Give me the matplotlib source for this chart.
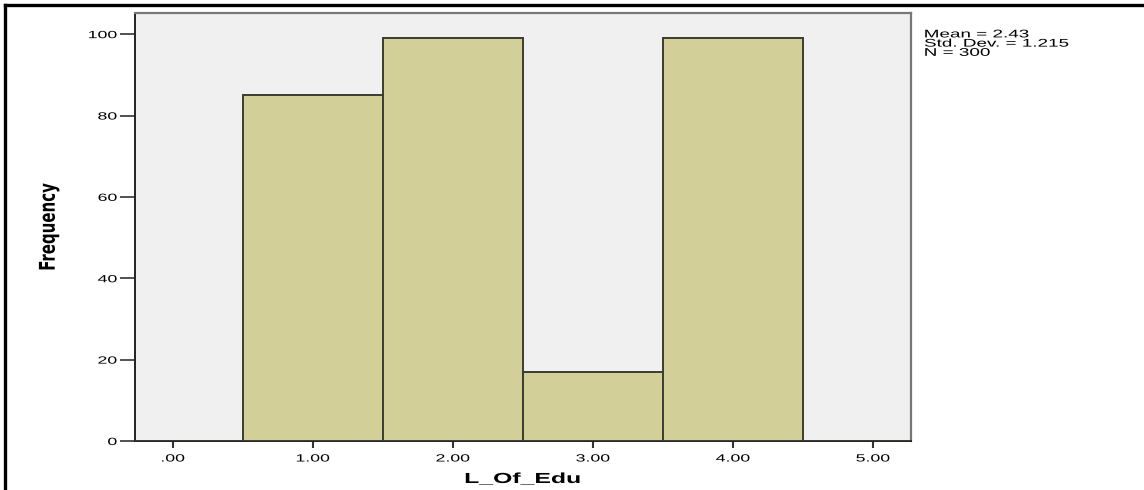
import matplotlib
matplotlib.use("Agg")
import matplotlib.pyplot as plt
import matplotlib.patheffects as pe
from matplotlib.lines import Line2D
from matplotlib.transforms import Affine2D

# Histogram of L_Of_Edu (SPSS style)
levels = [0, 1, 2, 3, 4, 5]
counts = [0, 85, 99, 17, 99, 0]
tick_labels = [".00", "1.00", "2.00", "3.00", "4.00", "5.00"]
y_ticks = [0, 20, 40, 60, 80, 100]
stats_text = "Mean = 2.43\nStd. Dev. = 1.215\nN = 300"


class StretchX(pe.AbstractPathEffect):
    """Widen text horizontally, the SPSS export looks stretched."""

    def __init__(self, sx, anchor='center'):
        super().__init__()
        self.sx = sx
        self.anchor = anchor

    def draw_path(self, renderer, gc, tpath, affine, rgbFace=None):
        ext = tpath.get_extents(affine)
        if self.anchor == 'left':
            x0 = ext.x0
        elif self.anchor == 'right':
            x0 = ext.x1
        else:
            x0 = (ext.x0 + ext.x1) / 2
        t = affine + Affine2D().translate(-x0, 0).scale(self.sx, 1).translate(x0, 0)
        renderer.draw_path(gc, tpath, t, rgbFace)


SX = 1.7
plt.rcParams['font.family'] = ['Liberation Sans', 'DejaVu Sans']

fig = plt.figure(figsize=(11.44, 4.9), dpi=100, facecolor='white')
ax = fig.add_axes([0.118, 0.1, 0.678, 0.8735])
ax.set_facecolor('#f0f0f0')

ax.bar(levels, counts, width=1.0, color='#d3cf98', edgecolor='#3c3c30',
       linewidth=1.4, zorder=3)

ax.set_xlim(-0.27, 5.27)
ax.set_ylim(0, 105.2)
ax.set_xticks(levels)
ax.set_xticklabels(tick_labels)
ax.set_yticks(y_ticks)

ax.tick_params(axis='y', direction='out', length=11, width=1.2, color='#333333',
               labelsize=7.5, pad=2)
ax.tick_params(axis='x', direction='out', length=5, width=1.5, color='#333333',
               labelsize=7.5, pad=4)

for lab in ax.get_xticklabels():
    lab.set_path_effects([StretchX(SX, 'center')])
for lab in ax.get_yticklabels():
    lab.set_path_effects([StretchX(SX, 'right')])

for side in ['left', 'bottom']:
    ax.spines[side].set_color('#222222')
    ax.spines[side].set_linewidth(1.4)
for side in ['top', 'right']:
    ax.spines[side].set_color('#777777')
    ax.spines[side].set_linewidth(1.6)

ax.set_ylabel('Frequency', fontsize=12, fontweight='bold',
              family=['Liberation Sans Narrow', 'DejaVu Sans'],
              fontstretch='condensed',
              path_effects=[StretchX(1.3, 'center')])
ax.yaxis.set_label_coords(-0.1, 0.5)

fig.text(0.118 + 0.678 / 2, 0.0143, 'L_Of_Edu', fontsize=10.5, fontweight='bold',
         ha='center', va='baseline', path_effects=[StretchX(SX, 'center')])

fig.text(0.808, 0.94, stats_text, fontsize=8, va='top', ha='left',
         linespacing=0.9, path_effects=[StretchX(SX, 'left')])

# outer frame (left and top edges)
fig.add_artist(Line2D([0.0048, 0.0048], [0, 0.99], transform=fig.transFigure,
                      color='black', linewidth=2.4))
fig.add_artist(Line2D([0.0048, 1.0], [0.99, 0.99], transform=fig.transFigure,
                      color='black', linewidth=2.4))

fig.savefig('out.png', dpi=100, facecolor='white')
